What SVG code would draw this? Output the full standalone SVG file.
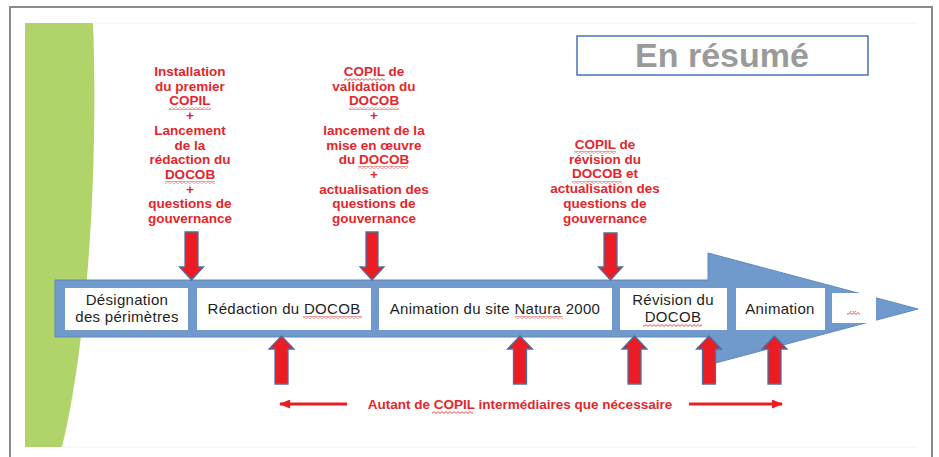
<svg xmlns="http://www.w3.org/2000/svg" width="939" height="457" viewBox="0 0 939 457">
<defs>
<style>
.red{font-family:"Liberation Sans",Arial,sans-serif;font-weight:bold;font-size:13.5px;fill:#e3262b;text-anchor:middle}
.box{fill:#ffffff}
.bt{font-family:"Liberation Sans",Arial,sans-serif;font-size:15px;fill:#1e1e1e;text-anchor:middle;letter-spacing:0.3px}
.arr{fill:#ec1c24;stroke:#4f6f9f;stroke-width:1.3}
.hl{stroke:#ec1c24;stroke-width:3;fill:none}
.sq{fill:url(#sq)}
</style>
<pattern id="sq" patternUnits="userSpaceOnUse" width="4" height="3">
<path d="M0,2.4 L2,0.6 L4,2.4" fill="none" stroke="#e02020" stroke-width="0.8"/>
</pattern>
<marker id="ah" viewBox="0 0 10 8" refX="9" refY="4" markerWidth="4" markerHeight="3" orient="auto" markerUnits="strokeWidth">
<path d="M0,0 L10,4 L0,8 Z" fill="#ec1c24"/>
</marker>
</defs>
<rect x="0" y="0" width="939" height="457" fill="#ffffff"/>
<rect x="10" y="7" width="922" height="460" fill="none" stroke="#8a8a8a" stroke-width="2"/>
<g id="background">
<line x1="95" y1="23" x2="918" y2="23" stroke="#f2f2f2" stroke-width="1"/>
<line x1="62" y1="447" x2="918" y2="447" stroke="#f2f2f2" stroke-width="1"/>
<path d="M25,23 L93,23 C98,150 90,330 62,447 L25,447 Z" fill="#b0d46a"/>
</g>
<g id="title">
<rect x="577" y="36" width="291" height="39" fill="#ffffff" stroke="#4a72b8" stroke-width="1.5"/>
<text x="722" y="67" font-family="Liberation Sans,Arial,sans-serif" font-weight="bold" font-size="34" fill="#9a9a9a" text-anchor="middle">En résumé</text>
</g>
<g id="timeline">
<path d="M55,280 L708,280 L708,253 L918,309 L708,365 L708,337 L55,337 Z" fill="#7099cc" stroke="#5f89bd" stroke-width="1"/>
</g>
<g id="n1"><rect class="box" x="65" y="288" width="123" height="42"/>
<text class="bt" x="127" y="305">Désignation</text><text class="bt" x="127" y="322">des périmètres</text></g>
<g id="n2"><rect class="box" x="197" y="288" width="174" height="42"/>
<text class="bt" x="284" y="314">Rédaction du DOCOB</text>
<rect class="sq" x="303" y="316" width="59" height="3"/></g>
<g id="n3"><rect class="box" x="379" y="288" width="233" height="42"/>
<text class="bt" x="495" y="314">Animation du site Natura 2000</text>
<rect class="sq" x="515" y="316" width="48" height="3"/></g>
<g id="n4"><rect class="box" x="620" y="288" width="107" height="42"/>
<text class="bt" x="673" y="305">Révision du</text><text class="bt" x="673" y="322">DOCOB</text>
<rect class="sq" x="643" y="324" width="59" height="3"/></g>
<g id="n5"><rect class="box" x="736" y="288" width="89" height="42"/>
<text class="bt" x="780" y="314">Animation</text></g>
<g id="n6"><rect class="box" x="832" y="293" width="44" height="30"/>
<text x="853" y="312" font-family="Liberation Sans,Arial,sans-serif" font-size="9" fill="#777" text-anchor="middle">...</text>
<rect class="sq" x="847" y="312" width="13" height="3"/></g>
<g id="label1">
<text class="red"><tspan x="190" y="76">Installation</tspan><tspan x="190" dy="14.7">du premier</tspan><tspan x="190" dy="14.7">COPIL</tspan><tspan x="190" dy="14.7">+</tspan><tspan x="190" dy="14.7">Lancement</tspan><tspan x="190" dy="14.7">de la</tspan><tspan x="190" dy="14.7">rédaction du</tspan><tspan x="190" dy="14.7">DOCOB</tspan><tspan x="190" dy="14.7">+</tspan><tspan x="190" dy="14.7">questions de</tspan><tspan x="190" dy="14.7">gouvernance</tspan></text>
<rect class="sq" x="169" y="107" width="42" height="3"/>
<rect class="sq" x="165" y="181" width="50" height="3"/>
</g>
<g id="label2">
<text class="red"><tspan x="374" y="76">COPIL de</tspan><tspan x="374" dy="14.7">validation du</tspan><tspan x="374" dy="14.7">DOCOB</tspan><tspan x="374" dy="14.7">+</tspan><tspan x="374" dy="14.7">lancement de la</tspan><tspan x="374" dy="14.7">mise en œuvre</tspan><tspan x="374" dy="14.7">du DOCOB</tspan><tspan x="374" dy="14.7">+</tspan><tspan x="374" dy="14.7">actualisation des</tspan><tspan x="374" dy="14.7">questions de</tspan><tspan x="374" dy="14.7">gouvernance</tspan></text>
<rect class="sq" x="344" y="78" width="41" height="3"/>
<rect class="sq" x="349" y="107" width="50" height="3"/>
<rect class="sq" x="358" y="166" width="50" height="3"/>
</g>
<g id="label3">
<text class="red"><tspan x="605" y="149">COPIL de</tspan><tspan x="605" dy="14.7">révision du</tspan><tspan x="605" dy="14.7">DOCOB et</tspan><tspan x="605" dy="14.7">actualisation des</tspan><tspan x="605" dy="14.7">questions de</tspan><tspan x="605" dy="14.7">gouvernance</tspan></text>
<rect class="sq" x="574" y="151" width="42" height="3"/>
<rect class="sq" x="572" y="181" width="50" height="3"/>
</g>
<g id="label4">
<text class="red" x="520" y="409">Autant de COPIL intermédiaires que nécessaire</text>
<rect class="sq" x="432" y="411" width="41" height="3"/>
</g>
<g id="connectors">
<path class="arr" d="M185,232 L198,232 L198,267 L203.5,267 L191.5,280 L179.5,267 L185,267 Z"/>
<path class="arr" d="M366,232 L378,232 L378,267 L384,267 L372,280 L360,267 L366,267 Z"/>
<path class="arr" d="M604,233 L617,233 L617,267 L622.5,267 L610.5,280 L598.5,267 L604,267 Z"/>
<path class="arr" d="M275,384 L288,384 L288,349 L294,349 L281.5,336 L269,349 L275,349 Z"/>
<path class="arr" d="M513.5,384 L526.5,384 L526.5,349 L532.5,349 L520,336 L507.5,349 L513.5,349 Z"/>
<path class="arr" d="M628,384 L641,384 L641,349 L647,349 L634.5,336 L622,349 L628,349 Z"/>
<path class="arr" d="M702.5,384 L715.5,384 L715.5,349 L721.5,349 L709,336 L696.5,349 L702.5,349 Z"/>
<path class="arr" d="M768,384 L781,384 L781,349 L787,349 L774.5,336 L762,349 L768,349 Z"/>
<line class="hl" x1="347" y1="404" x2="280" y2="404" marker-end="url(#ah)"/>
<line class="hl" x1="689" y1="404" x2="782" y2="404" marker-end="url(#ah)"/>
</g>
</svg>
